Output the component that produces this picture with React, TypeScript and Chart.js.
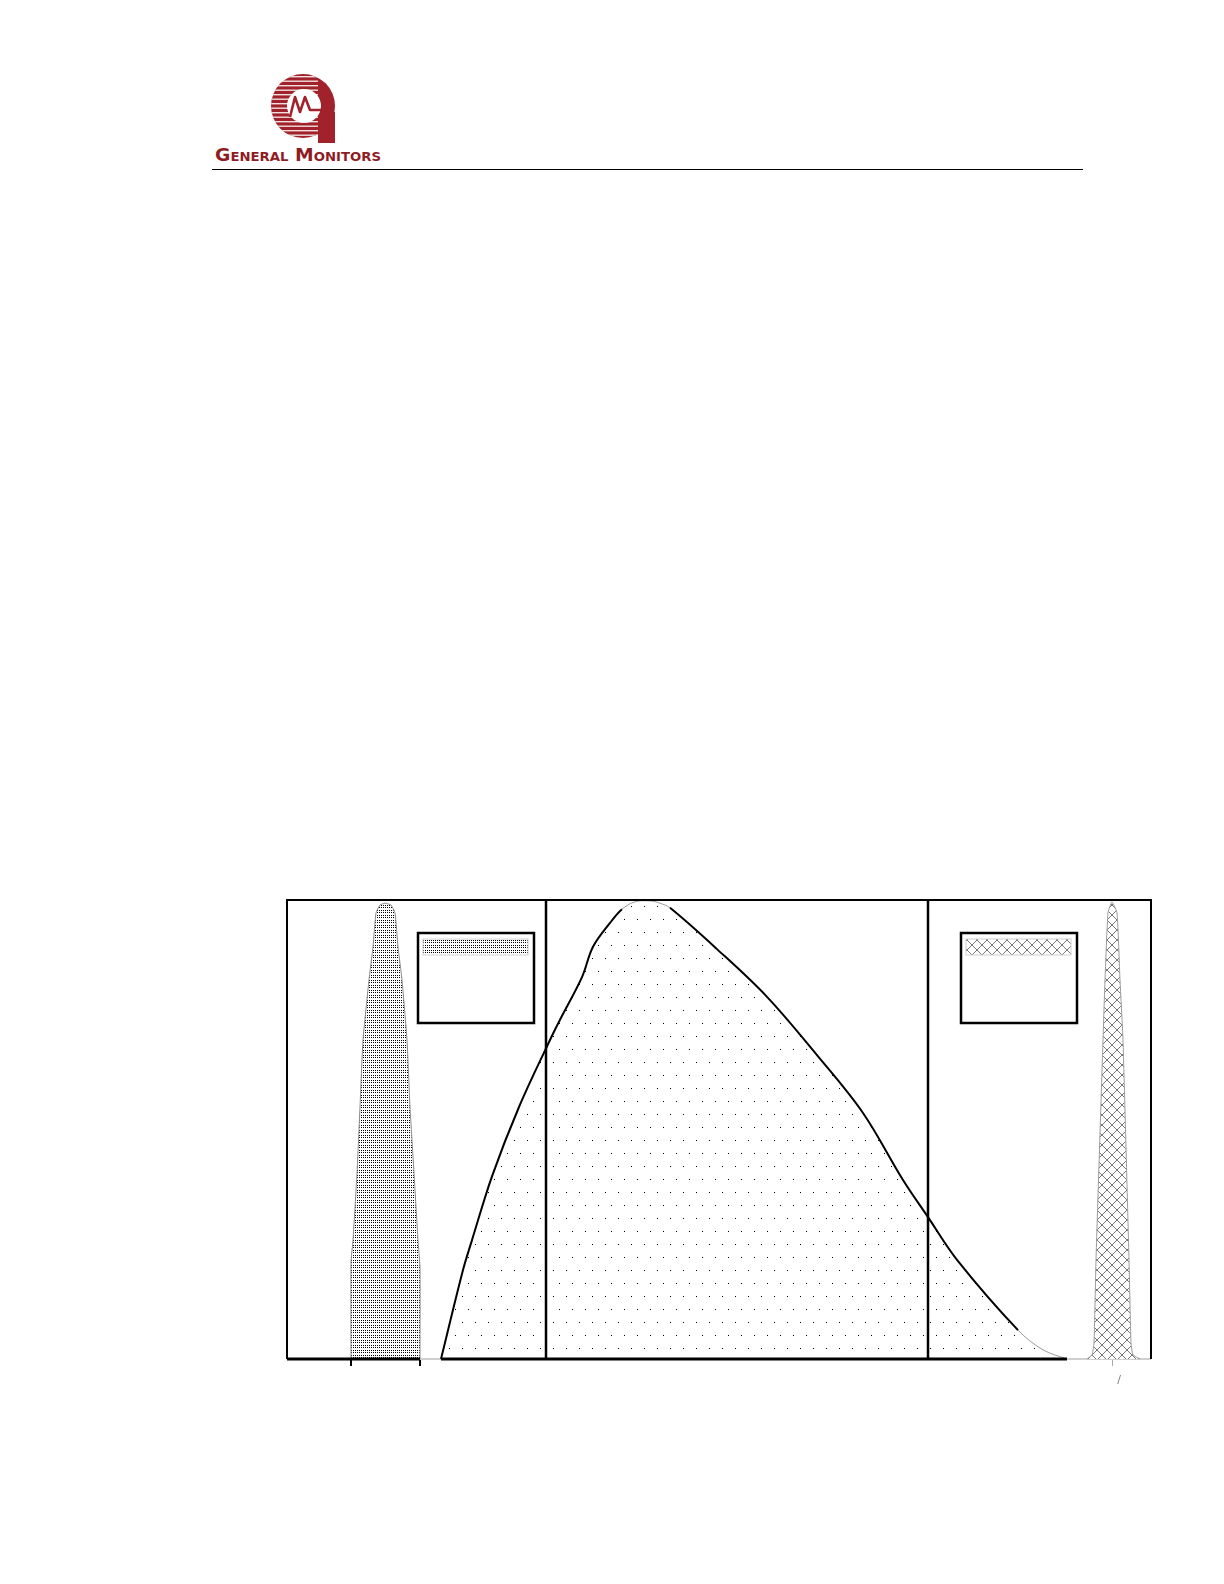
import React, { useEffect, useRef } from 'react';
import { Chart, registerables } from 'chart.js';

Chart.register(...registerables);

// ---------- data (x in arbitrary axis units 0..864, y as % of full height) ----------
const X_RANGE = [0, 864];
const Y_RANGE = [0, 100];

const TICK_VALUES = [64, 133, 825];
const TICK_LABELS = ['', '', '/'];

const LEFT_PEAK_X = [64, 64, 66, 70, 73, 76, 82, 86, 89, 93, 98, 104, 108, 111, 115, 120, 123, 127, 131, 133, 133];
const LEFT_PEAK_Y = [0, 21.1, 25.9, 40.5, 54.9, 69.5, 82.6, 89.8, 97.2, 98.9, 99.3, 98.9, 97.2, 89.8, 82.6, 69.5, 54.9, 40.5, 25.9, 20, 0];

const MAIN_CURVE_X = [154, 176, 185, 205, 232, 263, 273, 295, 306, 323, 335, 348, 363, 373, 383, 430, 480, 530, 576, 616, 641, 670, 731, 756, 780];
const MAIN_CURVE_Y = [0, 19.4, 25.9, 39.8, 54.9, 69.5, 73.9, 83.2, 89.8, 95.0, 98.0, 99.6, 99.8, 99.3, 98.3, 89.3, 78.9, 66.2, 53.6, 39.0, 30.9, 21.6, 6.3, 2.0, 0];

const RIGHT_PEAK_X = [800, 805, 807, 809, 816, 818, 821, 825, 830, 833, 836, 842, 844, 846, 853];
const RIGHT_PEAK_Y = [0, 0.9, 3.5, 21.6, 69.5, 82.6, 97.2, 99.6, 97.2, 82.6, 69.5, 21.6, 3.5, 0.9, 0];

const THRESHOLD_X = [259, 641];

const BASELINE_SEGMENTS = [
  [0, 133],
  [154, 780],
];

// main curve parts drawn with a faint thin stroke
const FAINT_RANGES = [
  [335, 383],
  [731, 780],
];

// ---------- layout / style (not data) ----------
const LEGEND_BOXES = [
  { left: 131, top: 33, width: 116, height: 90, pattern: 'dense' },
  { left: 674, top: 33, width: 116, height: 90, pattern: 'hatch' },
];

function zip(xs: number[], ys: number[]) {
  return xs.map((x, i) => ({ x, y: ys[i] }));
}

function makePattern(kind: string): CanvasPattern | string {
  const c = document.createElement('canvas');
  const g = c.getContext('2d');
  if (!g) return '#ccc';
  if (kind === 'dense') {
    c.width = 2;
    c.height = 5;
    g.fillStyle = '#fff';
    g.fillRect(0, 0, 2, 5);
    g.fillStyle = '#000';
    g.fillRect(0, 0, 1, 1);
    g.fillRect(0, 2, 1, 1);
  } else if (kind === 'sparse') {
    c.width = 13;
    c.height = 26;
    g.fillStyle = '#fff';
    g.fillRect(0, 0, 13, 26);
    g.fillStyle = '#000';
    g.fillRect(0, 0, 1, 1);
    g.fillRect(6, 13, 1, 1);
  } else {
    c.width = 10;
    c.height = 10;
    g.fillStyle = '#fff';
    g.fillRect(0, 0, 10, 10);
    g.strokeStyle = '#555';
    g.lineWidth = 0.8;
    g.beginPath();
    g.moveTo(0, 0);
    g.lineTo(10, 10);
    g.moveTo(10, 0);
    g.lineTo(0, 10);
    g.stroke();
  }
  const p = g.createPattern(c, 'repeat');
  return p || '#ccc';
}

function App() {
  const ref = useRef<HTMLCanvasElement | null>(null);

  useEffect(() => {
    if (!ref.current) return;
    const dense = makePattern('dense');
    const sparse = makePattern('sparse');
    const hatch = makePattern('hatch');
    const patterns: Record<string, any> = { dense, sparse, hatch };

    const framePlugin = {
      id: 'frame',
      beforeDatasetsDraw(chart: any) {
        const { ctx, chartArea } = chart;
        ctx.save();
        ctx.strokeStyle = '#cfcfcf';
        ctx.lineWidth = 2;
        ctx.beginPath();
        ctx.moveTo(chartArea.left, chartArea.bottom);
        ctx.lineTo(chartArea.right, chartArea.bottom);
        ctx.stroke();
        ctx.restore();
      },
      afterDatasetsDraw(chart: any) {
        const { ctx, chartArea } = chart;
        const { left, right, top, bottom } = chartArea;
        ctx.save();
        ctx.strokeStyle = '#000';
        ctx.lineWidth = 2;
        ctx.beginPath();
        ctx.moveTo(left, bottom);
        ctx.lineTo(left, top);
        ctx.lineTo(right, top);
        ctx.lineTo(right, bottom);
        ctx.stroke();

        LEGEND_BOXES.forEach((b) => {
          const x = left + b.left;
          const y = top + b.top;
          ctx.fillStyle = '#fff';
          ctx.fillRect(x, y, b.width, b.height);
          ctx.fillStyle = patterns[b.pattern];
          ctx.fillRect(x + 5, y + 6, b.width - 11, 16);
          ctx.strokeStyle = '#d0d0d0';
          ctx.lineWidth = 1;
          ctx.strokeRect(x + 5, y + 6, b.width - 11, 16);
          ctx.strokeStyle = '#000';
          ctx.lineWidth = 2.5;
          ctx.strokeRect(x, y, b.width, b.height);
        });
        ctx.restore();
      },
    };

    const inFaint = (x0: number, x1: number) =>
      FAINT_RANGES.some(([a, b]) => x0 >= a && x1 <= b);

    const datasets: any[] = [
      ...BASELINE_SEGMENTS.map((s) => ({
        data: [
          { x: s[0], y: 0 },
          { x: s[1], y: 0 },
        ],
        borderColor: '#000',
        borderWidth: 3,
        pointRadius: 0,
        fill: false,
        clip: false,
        order: 0,
      })),
      ...THRESHOLD_X.map((x) => ({
        data: [
          { x, y: Y_RANGE[0] },
          { x, y: Y_RANGE[1] },
        ],
        borderColor: '#000',
        borderWidth: 2.5,
        pointRadius: 0,
        fill: false,
        clip: false,
        order: 1,
      })),
      {
        data: zip(MAIN_CURVE_X, MAIN_CURVE_Y),
        borderColor: '#000',
        borderWidth: 2,
        backgroundColor: sparse,
        fill: 'origin',
        pointRadius: 0,
        tension: 0.35,
        clip: false,
        order: 2,
        segment: {
          borderColor: (c: any) => (inFaint(c.p0.parsed.x, c.p1.parsed.x) ? '#9a9a9a' : '#000'),
          borderWidth: (c: any) => (inFaint(c.p0.parsed.x, c.p1.parsed.x) ? 1 : 2),
        },
      },
      {
        data: zip(LEFT_PEAK_X, LEFT_PEAK_Y),
        borderColor: '#8c8c8c',
        borderWidth: 1,
        backgroundColor: dense,
        fill: 'origin',
        pointRadius: 0,
        tension: 0.15,
        clip: false,
        order: 3,
      },
      {
        data: zip(RIGHT_PEAK_X, RIGHT_PEAK_Y),
        borderColor: '#9a9a9a',
        borderWidth: 1,
        backgroundColor: hatch,
        fill: 'origin',
        pointRadius: 0,
        tension: 0.15,
        clip: false,
        order: 3,
      },
    ];

    const chart = new Chart(ref.current, {
      type: 'line',
      data: { datasets },
      options: {
        animation: false,
        responsive: false,
        maintainAspectRatio: false,
        events: [],
        layout: { padding: { left: 20, right: 20, top: 20, bottom: 0 } },
        plugins: { legend: { display: false }, tooltip: { enabled: false } },
        elements: { point: { radius: 0 } },
        scales: {
          x: {
            type: 'linear',
            min: X_RANGE[0],
            max: X_RANGE[1],
            afterBuildTicks: (s: any) => {
              s.ticks = TICK_VALUES.map((v) => ({ value: v }));
            },
            afterFit: (s: any) => {
              s.height = 40;
            },
            ticks: {
              autoSkip: false,
              maxRotation: 0,
              padding: 8,
              labelOffset: 7,
              color: '#777',
              font: { size: 11, family: 'DejaVu Sans' },
              callback: (_v: any, i: number) => TICK_LABELS[i] ?? '',
            },
            grid: {
              drawOnChartArea: false,
              drawTicks: true,
              tickLength: 7,
              color: (c: any) => (c.index === 2 ? '#a8a8a8' : '#000'),
              lineWidth: (c: any) => (c.index === 2 ? 1 : 2),
            },
            border: { display: false },
          },
          y: {
            display: false,
            min: Y_RANGE[0],
            max: Y_RANGE[1],
          },
        },
      } as any,
      plugins: [framePlugin],
    });

    return () => chart.destroy();
  }, []);

  const stripes: number[] = [];
  for (let y = 76; y <= 140; y += 4.5) stripes.push(y);

  return (
    <div>
      <svg
        width={1224}
        height={200}
        style={{ position: 'absolute', left: 0, top: 0 }}
      >
        <defs>
          <clipPath id="gmDisc">
            <circle cx={303} cy={106} r={32} />
          </clipPath>
        </defs>
        <g clipPath="url(#gmDisc)">
          <rect x={268} y={72} width={70} height={70} fill="#a1222a" />
          {stripes.map((y) => (
            <rect key={y} x={268} y={y} width={50} height={1.4} fill="#fff" opacity={0.85} />
          ))}
        </g>
        <rect x={318} y={112} width={17} height={31} fill="#a1222a" />
        <circle cx={304} cy={106} r={17} fill="#fff" />
        <polyline
          points="290,117 295,97 300,112 305,97 310,110 316,110 334,110"
          fill="none"
          stroke="#a1222a"
          strokeWidth={2.6}
          strokeLinejoin="round"
        />
        <text
          x={215}
          y={161}
          fontFamily="DejaVu Sans"
          fontWeight="bold"
          fontSize={17}
          fill="#8e1c24"
          style={{ fontVariant: 'small-caps' }}
          textLength={166}
          lengthAdjust="spacingAndGlyphs"
        >
          General Monitors
        </text>
        <line x1={212} y1={169.5} x2={1083} y2={169.5} stroke="#000" strokeWidth={1} />
      </svg>
      <canvas
        ref={ref}
        width={904}
        height={519}
        style={{ position: 'absolute', left: 267, top: 880, width: 904, height: 519 }}
      />
    </div>
  );
}

export default App;
